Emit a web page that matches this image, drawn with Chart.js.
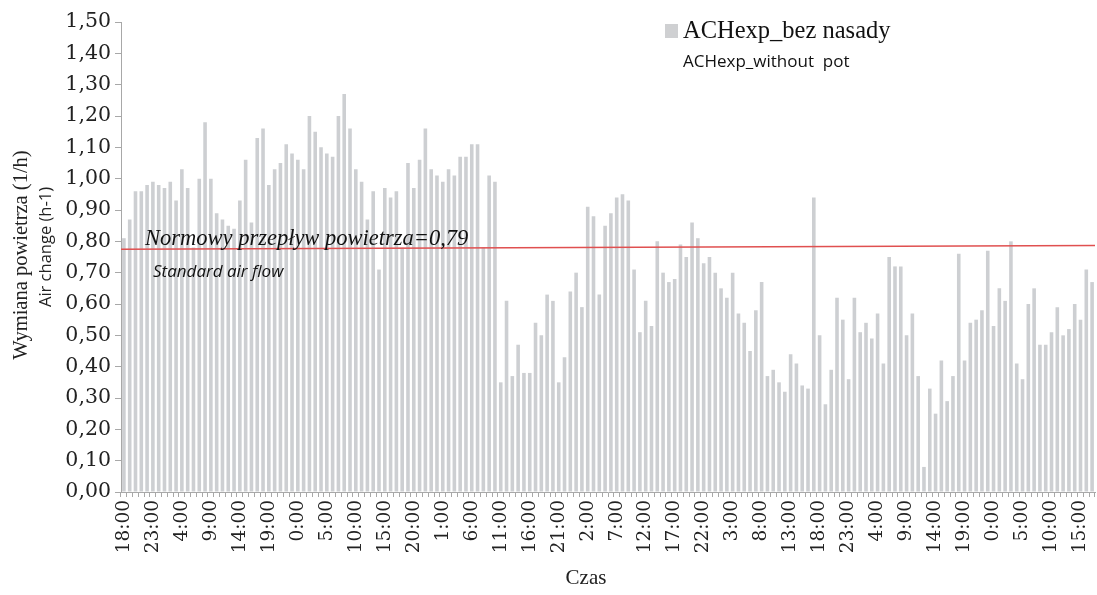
<!DOCTYPE html>
<html>
<head>
<meta charset="utf-8">
<script src="https://cdn.jsdelivr.net/npm/chart.js@4.4.1/dist/chart.umd.min.js"></script>
<style>
html,body{margin:0;padding:0;background:#fff;}
#wrap{width:1097px;height:595px;position:relative;}
</style>
</head>
<body>
<div id="wrap"><canvas id="c" width="1097" height="595"></canvas></div>
<script>
// hourly categories, first bar at 18:00
const startHour = 18;
const nBars = 168;
const categories = [];
for (let i = 0; i < nBars; i++) categories.push(((startHour + i) % 24) + ':00');

// tick labels shown (every 5th hour)
const tickLabels = ['18:00','23:00','4:00','9:00','14:00','19:00','0:00','5:00','10:00','15:00','20:00','1:00','6:00','11:00','16:00','21:00','2:00','7:00','12:00','17:00','22:00','3:00','8:00','13:00','18:00','23:00','4:00','9:00','14:00','19:00','0:00','5:00','10:00','15:00'];

// ACHexp_bez nasady (1/h)
const achValues = [
0.81,0.87,0.96,0.96,0.98,0.99,0.98,0.97,0.99,0.93,
1.03,0.97,0.78,1.00,1.18,1.00,0.89,0.87,0.85,0.84,
0.93,1.06,0.86,1.13,1.16,0.98,1.03,1.05,1.11,1.08,
1.06,1.03,1.20,1.15,1.10,1.08,1.07,1.20,1.27,1.16,
1.03,0.99,0.87,0.96,0.71,0.97,0.94,0.96,0.78,1.05,
0.97,1.06,1.16,1.03,1.01,0.99,1.03,1.01,1.07,1.07,
1.11,1.11,0.78,1.01,0.99,0.35,0.61,0.37,0.47,0.38,
0.38,0.54,0.50,0.63,0.61,0.35,0.43,0.64,0.70,0.59,
0.91,0.88,0.63,0.85,0.89,0.94,0.95,0.93,0.71,0.51,
0.61,0.53,0.80,0.70,0.67,0.68,0.79,0.75,0.86,0.81,
0.73,0.75,0.70,0.65,0.62,0.70,0.57,0.54,0.45,0.58,
0.67,0.37,0.39,0.35,0.32,0.44,0.41,0.34,0.33,0.94,
0.50,0.28,0.39,0.62,0.55,0.36,0.62,0.51,0.54,0.49,
0.57,0.41,0.75,0.72,0.72,0.50,0.57,0.37,0.08,0.33,
0.25,0.42,0.29,0.37,0.76,0.42,0.54,0.55,0.58,0.77,
0.53,0.65,0.61,0.80,0.41,0.36,0.60,0.65,0.47,0.47,
0.51,0.59,0.50,0.52,0.60,0.55,0.71,0.67
];

// standard air flow line (as drawn: slightly rising from left to right edge)
const normStart = 0.775;
const normEnd = 0.787;

const yTicks = [0,0.1,0.2,0.3,0.4,0.5,0.6,0.7,0.8,0.9,1.0,1.1,1.2,1.3,1.4,1.5];

const normLinePlugin = {
  id: 'normLine',
  afterDatasetsDraw(chart) {
    const { ctx, chartArea, scales } = chart;
    ctx.save();
    ctx.strokeStyle = '#e05050';
    ctx.lineWidth = 1.5;
    ctx.beginPath();
    ctx.moveTo(chartArea.left, scales.y.getPixelForValue(normStart));
    ctx.lineTo(chartArea.right, scales.y.getPixelForValue(normEnd));
    ctx.stroke();
    ctx.restore();
  }
};

const textPlugin = {
  id: 'texts',
  afterDraw(chart) {
    const ctx = chart.ctx;
    ctx.save();
    ctx.fillStyle = '#222';
    ctx.textAlign = 'center';
    ctx.textBaseline = 'middle';
    ctx.translate(22, 255);
    ctx.rotate(-Math.PI / 2);
    ctx.font = '20.5px "Liberation Serif"';
    ctx.fillText('Wymiana powietrza (1/h)', 0, 0);
    ctx.restore();
    ctx.save();
    ctx.fillStyle = '#222';
    ctx.textAlign = 'center';
    ctx.textBaseline = 'middle';
    ctx.translate(46, 247);
    ctx.rotate(-Math.PI / 2);
    ctx.font = '16.5px "Open Sans"';
    ctx.fillText('Air change (h-1)', 0, 0);
    ctx.restore();

    ctx.save();
    ctx.fillStyle = '#222';
    ctx.textAlign = 'center';
    ctx.textBaseline = 'middle';
    ctx.font = '21px "Liberation Serif"';
    ctx.fillText('Czas', 586, 578);

    // legend
    ctx.fillStyle = '#cfd0d2';
    ctx.fillRect(665, 24, 13, 14);
    ctx.fillStyle = '#111';
    ctx.textAlign = 'left';
    ctx.font = '24.5px "Liberation Serif"';
    ctx.fillText('ACHexp_bez nasady', 683, 32);
    ctx.font = '17px "Open Sans"';
    ctx.fillText('ACHexp_without  pot', 683, 62);

    // norm annotation
    ctx.font = 'italic 22.5px "Liberation Serif"';
    ctx.textBaseline = 'alphabetic';
    ctx.fillText('Normowy przepływ powietrza=0,79', 145, 245);
    ctx.font = 'italic 17px "Open Sans"';
    ctx.textBaseline = 'middle';
    ctx.fillText('Standard air flow', 153, 272);
    ctx.restore();
  }
};

new Chart(document.getElementById('c'), {
  data: {
    labels: categories,
    datasets: [
      {
        type: 'bar',
        label: 'ACHexp_bez nasady',
        data: achValues,
        backgroundColor: '#cdcfd2',
        borderWidth: 0,
        barPercentage: 0.62,
        categoryPercentage: 1.0
      }
    ]
  },
  options: {
    responsive: false,
    animation: false,
    layout: { padding: { top: 22, right: 2, left: 0, bottom: 0 } },
    plugins: { legend: { display: false }, tooltip: { enabled: false } },
    scales: {
      x: {
        offset: true,
        afterFit(scale) { scale.height = 103; scale.paddingRight = 0; scale.paddingLeft = 0; },
        grid: { drawOnChartArea: false, drawTicks: true, tickLength: 5, color: '#a8a8a8' },
        border: { color: '#a8a8a8' },
        ticks: {
          autoSkip: false,
          maxRotation: 90,
          minRotation: 90,
          padding: 3,
          color: '#222',
          font: { family: '"DejaVu Serif"', size: 18.5 },
          callback(value, index) { return index % 5 === 0 ? tickLabels[index / 5] : ''; }
        }
      },
      y: {
        min: 0,
        max: 1.5,
        afterFit(scale) { scale.width = 121; },
        afterBuildTicks(scale) { scale.ticks = yTicks.map(v => ({ value: v })); },
        grid: { drawOnChartArea: false, drawTicks: true, tickLength: 6, color: '#a8a8a8' },
        border: { color: '#a8a8a8' },
        ticks: {
          padding: 4,
          color: '#222',
          font: { family: '"DejaVu Serif"', size: 20.5 },
          callback(value) { return value.toFixed(2).replace('.', ','); }
        }
      }
    }
  },
  plugins: [normLinePlugin, textPlugin]
});
</script>
</body>
</html>
